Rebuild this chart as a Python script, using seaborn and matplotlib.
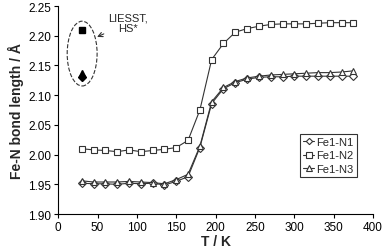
import numpy as np
import pandas as pd
import matplotlib
matplotlib.use("Agg")
import matplotlib.pyplot as plt
import seaborn as sns
from matplotlib.patches import Ellipse

# Temperaturen (K)
temps = [30, 45, 60, 75, 90, 105, 120, 135, 150, 165, 180, 195,
         210, 225, 240, 255, 270, 285, 300, 315, 330, 345, 360, 375]

# Bindungslaengen (Angstrom)
fe1_n1 = [1.952, 1.951, 1.951, 1.950, 1.952, 1.951, 1.952, 1.949, 1.955, 1.963,
          2.012, 2.086, 2.111, 2.121, 2.127, 2.130, 2.131, 2.131, 2.132, 2.132,
          2.132, 2.132, 2.132, 2.132]
fe1_n2 = [2.010, 2.008, 2.007, 2.005, 2.008, 2.005, 2.007, 2.009, 2.012, 2.024,
          2.075, 2.160, 2.187, 2.206, 2.212, 2.216, 2.219, 2.220, 2.220, 2.220,
          2.221, 2.222, 2.222, 2.222]
fe1_n3 = [1.956, 1.954, 1.954, 1.954, 1.955, 1.954, 1.953, 1.951, 1.958, 1.967,
          2.014, 2.089, 2.113, 2.123, 2.129, 2.132, 2.134, 2.135, 2.136, 2.137,
          2.138, 2.138, 2.139, 2.141]

# LIESST-Punkte bei 30 K
liesst_t = [30, 30, 30]
liesst_v = [2.130, 2.210, 2.138]

labels = ["Fe1-N1", "Fe1-N2", "Fe1-N3"]
markers = ["D", "s", "^"]
msizes = [4, 5, 5]

df = pd.DataFrame({"T": temps * 3,
                   "v": fe1_n1 + fe1_n2 + fe1_n3,
                   "bond": sum([[l] * len(temps) for l in labels], [])})

sns.set_style("ticks")
plt.rcParams["font.family"] = ["Liberation Sans", "DejaVu Sans"]

fig = plt.figure(figsize=(3.85, 2.51), dpi=100)
ax = fig.add_axes([0.151, 0.143, 0.818, 0.829])

for lab, m, ms in zip(labels, markers, msizes):
    sub = df[df["bond"] == lab]
    sns.lineplot(data=sub, x="T", y="v", ax=ax, color="#333333", lw=0.8,
                 marker=m, markersize=ms, markerfacecolor="white",
                 markeredgecolor="#333333", markeredgewidth=0.8, label=lab)

for t, v, m, ms in zip(liesst_t, liesst_v, markers, msizes):
    ax.plot(t, v, marker=m, color="black", markersize=ms, ls="none")

ax.add_patch(Ellipse((30.5, 2.170), 38, 0.109, fill=False, ls="--", lw=0.8,
                     color="#333333"))
ax.annotate("LIESST,\nHS*", xy=(49.5, 2.198), xytext=(89, 2.222), fontsize=8,
            ha="center", va="center", linespacing=1.15,
            arrowprops=dict(arrowstyle="->", lw=0.8, color="#333333",
                            shrinkA=1, shrinkB=0))

ax.set_xlim(0, 400)
ax.set_ylim(1.90, 2.25)
ax.set_xticks(np.arange(0, 401, 50))
ax.set_yticks(np.arange(1.90, 2.251, 0.05))
ax.set_yticklabels([f"{t:.2f}" for t in np.arange(1.90, 2.251, 0.05)])
ax.tick_params(labelsize=8.5, length=3, width=0.8, colors="black", pad=2)
ax.set_xlabel("T / K", fontsize=10, fontweight="bold", labelpad=1)
ax.set_ylabel("Fe-N bond length / Å", fontsize=10, fontweight="bold", labelpad=3)
sns.despine(ax=ax)
for s in ["left", "bottom"]:
    ax.spines[s].set_color("black")
    ax.spines[s].set_linewidth(0.8)

leg = ax.legend(loc="lower right", bbox_to_anchor=(0.949, 0.178), fontsize=8,
                frameon=True, fancybox=False, handlelength=1.0, handletextpad=0.2,
                borderpad=0.3, labelspacing=0.3, borderaxespad=0, markerscale=0.8)
leg.get_frame().set_edgecolor("black")
leg.get_frame().set_linewidth(0.8)

fig.savefig("out.png", dpi=100)
